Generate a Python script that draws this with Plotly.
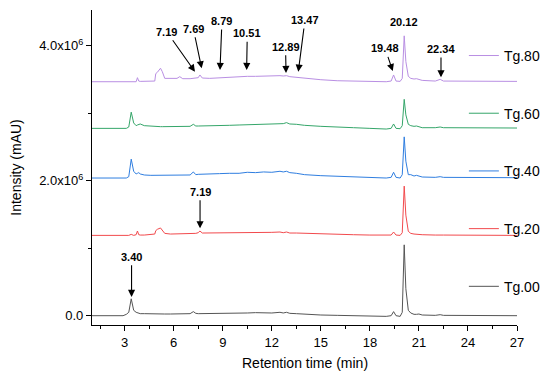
import plotly.graph_objects as go

# ---------------- data ----------------
time_min = [1.0, 2.9, 3.1, 3.25, 3.4, 3.55, 3.7, 3.78, 3.86, 3.95,
            4.2, 4.6, 4.84, 4.9, 5.0, 5.19, 5.3, 5.45, 5.8, 6.2,
            6.37, 6.55, 7.0, 7.2, 7.35, 7.5, 7.6, 7.75, 8.2, 8.8,
            9.4, 10.0, 10.5, 11.0, 11.5, 12.0, 12.5, 12.7, 12.9, 13.1,
            13.5, 14.0, 15.0, 16.0, 17.0, 18.0, 19.0, 19.3, 19.45, 19.6,
            19.85, 19.98, 20.1, 20.2, 20.35, 20.5, 20.7, 20.85, 21.0, 21.2,
            22.0, 22.3, 22.5, 27.0]

# intensities above each trace's own baseline, in units of 1e6 mAU
tg00 = [0, 0, 0.02, 0.05, 0.25, 0.08, 0.05, 0.04, 0.035, 0.03,
        0.03, 0.025, 0.025, 0.025, 0.025, 0.025, 0.025, 0.025, 0.025, 0.025,
        0.025, 0.025, 0.03, 0.06, 0.035, 0.03, 0.03, 0.03, 0.03, 0.035,
        0.035, 0.04, 0.04, 0.045, 0.04, 0.04, 0.05, 0.04, 0.05, 0.035,
        0.03, 0.02, 0.01, 0.005, 0.0, -0.005, -0.01, 0.0, 0.06, 0.0,
        -0.01, 0.05, 1.05, 0.4, 0.08, 0.04, 0.02, 0.02, 0.025, 0.01,
        0.005, 0.015, 0.005, 0.0]
tg20 = [0, 0, 0.0, 0.0, 0.015, 0.0, 0.01, 0.065, 0.01, 0.005,
        0.005, 0.01, 0.02, 0.07, 0.09, 0.11, 0.08, 0.03, 0.02, 0.02,
        0.02, 0.02, 0.025, 0.03, 0.03, 0.04, 0.065, 0.035, 0.035, 0.035,
        0.04, 0.04, 0.045, 0.045, 0.04, 0.045, 0.05, 0.04, 0.05, 0.035,
        0.035, 0.03, 0.02, 0.015, 0.01, 0.005, 0.0, 0.005, 0.05, 0.005,
        0.0, 0.04, 0.73, 0.3, 0.06, 0.03, 0.02, 0.02, 0.02, 0.01,
        0.005, 0.01, 0.005, 0.0]
tg40 = [0, 0, 0.0, 0.02, 0.28, 0.1, 0.06, 0.07, 0.08, 0.06,
        0.045, 0.04, 0.04, 0.04, 0.04, 0.04, 0.04, 0.04, 0.04, 0.04,
        0.04, 0.04, 0.045, 0.09, 0.05, 0.055, 0.055, 0.06, 0.06, 0.065,
        0.07, 0.07, 0.085, 0.08, 0.09, 0.085, 0.1, 0.09, 0.1, 0.08,
        0.07, 0.05, 0.035, 0.025, 0.015, 0.01, 0.0, 0.01, 0.085, 0.01,
        0.0, 0.05, 0.61, 0.25, 0.05, 0.05, 0.03, 0.04, 0.03, 0.015,
        0.01, 0.02, 0.01, 0.005]
tg60 = [0, 0, 0.0, 0.02, 0.24, 0.08, 0.04, 0.05, 0.06, 0.065,
        0.04, 0.03, 0.025, 0.025, 0.025, 0.025, 0.025, 0.025, 0.025, 0.025,
        0.025, 0.025, 0.03, 0.06, 0.035, 0.035, 0.035, 0.035, 0.04, 0.04,
        0.045, 0.05, 0.055, 0.06, 0.06, 0.065, 0.075, 0.07, 0.085, 0.065,
        0.06, 0.045, 0.03, 0.015, 0.01, 0.0, -0.01, 0.0, 0.065, 0.0,
        -0.005, 0.04, 0.43, 0.2, 0.06, 0.04, 0.03, 0.035, 0.025, 0.01,
        0.01, 0.02, 0.01, 0.005]
tg80 = [0, 0, 0.0, 0.0, 0.0, 0.0, 0.0, 0.06, 0.01, 0.005,
        0.005, 0.005, 0.01, 0.12, 0.14, 0.2, 0.15, 0.05, 0.045, 0.05,
        0.075, 0.045, 0.045, 0.05, 0.05, 0.06, 0.1, 0.055, 0.05, 0.06,
        0.065, 0.07, 0.08, 0.08, 0.085, 0.085, 0.09, 0.085, 0.09, 0.075,
        0.065, 0.05, 0.03, 0.015, 0.01, 0.005, 0.0, 0.01, 0.1, 0.01,
        0.005, 0.05, 0.68, 0.3, 0.08, 0.05, 0.04, 0.045, 0.035, 0.02,
        0.01, 0.035, 0.01, 0.005]

series_names = ["Tg.80", "Tg.60", "Tg.40", "Tg.20", "Tg.00"]
series_values = [tg80, tg60, tg40, tg20, tg00]
series_offsets = [3.467, 2.776, 2.04, 1.19, 0.0]   # stacking offsets, 1e6 mAU
series_colors = ["#b98fe3", "#35a66a", "#2f7ee0", "#f24a4d", "#555555"]

# peak labels: (text, label_t, label_v, head_t, head_v), v in 1e6 mAU
peak_labels = [
    ("3.40", 3.42, 0.874, 3.42, 0.277),
    ("7.19", 7.61, 1.837, 7.61, 1.295),
    ("7.19", 5.57, 4.207, 7.30, 3.615),
    ("7.69", 7.20, 4.252, 7.71, 3.665),
    ("8.79", 8.95, 4.366, 8.83, 3.640),
    ("10.51", 10.50, 4.184, 10.46, 3.640),
    ("12.89", 12.84, 3.985, 12.87, 3.596),
    ("13.47", 14.03, 4.381, 13.62, 3.615),
    ("19.48", 18.93, 3.961, 19.40, 3.625),
    ("20.12", 20.11, 4.351, None, None),
    ("22.34", 22.35, 3.951, 22.35, 3.532),
]

y_tickvals = [0, 2e6, 4e6]
y_ticktext = ["0.0", "2.0x10<sup>6</sup>", "4.0x10<sup>6</sup>"]
x_title = "Retention time (min)"
y_title = "Intensity (mAU)"

FONT = "Liberation Sans, Arial, sans-serif"
SCALE = 1e6

fig = go.Figure()
for name, vals, off, col in zip(series_names, series_values, series_offsets, series_colors):
    fig.add_trace(go.Scatter(
        x=time_min, y=[(v + off) * SCALE for v in vals],
        mode="lines", name=name, legendgroup=name,
        line=dict(color=col, width=1),
    ))

annotations = []
for text, lt, lv, ht, hv in peak_labels:
    base = dict(xref="x", yref="y", text="<b>%s</b>" % text,
                font=dict(family=FONT, size=11, color="black"),
                xanchor="center", yanchor="middle", borderpad=2)
    if ht is None:
        base.update(x=lt, y=lv * SCALE, showarrow=False)
    else:
        base.update(x=ht, y=hv * SCALE, showarrow=True, axref="x", ayref="y",
                    ax=lt, ay=lv * SCALE, arrowhead=2, arrowsize=1.3,
                    arrowwidth=1.1, arrowcolor="black", standoff=0)
    annotations.append(base)

# x-axis title placed as a paper annotation for exact vertical position
annotations.append(dict(
    xref="paper", yref="paper", x=0.5, y=-0.12, text=x_title,
    showarrow=False, xanchor="center", yanchor="middle",
    font=dict(family=FONT, size=14, color="black"),
))

fig.update_layout(
    width=550, height=377,
    margin=dict(l=84, r=41, t=2, b=60),
    paper_bgcolor="white", plot_bgcolor="white",
    font=dict(family=FONT, size=13, color="black"),
    annotations=annotations,
    showlegend=True,
    legend=dict(
        x=0.875, y=0.905, xanchor="left", yanchor="top",
        traceorder="grouped", tracegroupgap=36.5,
        font=dict(family=FONT, size=14, color="black"),
        bgcolor="rgba(0,0,0,0)", borderwidth=0, itemwidth=30,
    ),
    xaxis=dict(
        range=[1.0, 27.0], tickmode="linear", tick0=0, dtick=3,
        ticks="outside", ticklen=5, tickwidth=1, tickcolor="black",
        showline=True, linecolor="black", linewidth=1.3, mirror=False,
        showgrid=False, zeroline=False, automargin=False,
        tickfont=dict(family=FONT, size=13),
        minor=dict(tickmode="linear", tick0=0, dtick=1.5, ticks="outside",
                   ticklen=3, tickcolor="black", showgrid=False),
    ),
    yaxis=dict(
        range=[-0.138e6, 4.53e6],
        tickmode="array", tickvals=y_tickvals, ticktext=y_ticktext,
        ticks="outside", ticklen=5, tickwidth=1, tickcolor="black",
        showline=True, linecolor="black", linewidth=1.3, mirror=False,
        showgrid=False, zeroline=False, automargin=False,
        tickfont=dict(family=FONT, size=13),
        minor=dict(tickmode="linear", tick0=0, dtick=1e6, ticks="outside",
                   ticklen=3, tickcolor="black", showgrid=False),
        title=dict(text=y_title, font=dict(family=FONT, size=14)),
    ),
)

fig.write_html("out.html")
